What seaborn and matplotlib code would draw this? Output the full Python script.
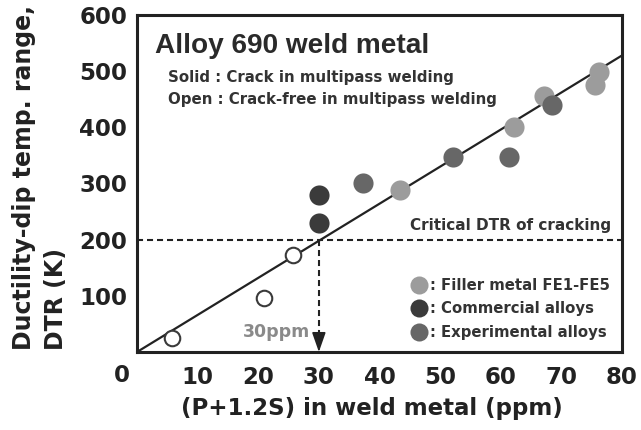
import matplotlib
matplotlib.use("Agg")
import matplotlib.pyplot as plt
from matplotlib.lines import Line2D
import seaborn as sns

sns.set_theme(style="white")
plt.rcParams['font.family'] = ['DejaVu Sans']
plt.rcParams['font.weight'] = 'bold'

# ---- data ----
open_x = [5.8, 21.0, 25.8]
open_y = [25, 96, 172]
filler_x = [43.4, 62.2, 67.2, 75.6, 76.2]
filler_y = [288, 400, 455, 475, 499]
commercial_x = [30.0, 30.0]
commercial_y = [280, 229]
experimental_x = [37.3, 52.1, 61.4, 68.5]
experimental_y = [301, 348, 348, 440]
fit_x = [0, 80]
fit_y = [0, 528]
critical_dtr = 200
critical_ppm = 30
x_ticks = [10, 20, 30, 40, 50, 60, 70, 80]
y_ticks = [100, 200, 300, 400, 500, 600]

col_filler = '#9c9c9c'
col_comm = '#3b3b3b'
col_exp = '#676767'
col_text = '#2a2a2a'

fig = plt.figure(figsize=(6.41, 4.30), dpi=100)
ax = fig.add_axes([137/641, (430-352)/430, 485/641, 337/430])

# fit line
sns.lineplot(x=fit_x, y=fit_y, ax=ax, color='#222222', lw=1.6, zorder=2)

# critical dashed lines
ax.plot([0, 80], [critical_dtr, critical_dtr], color='#222222', lw=1.5,
        dashes=(2.9, 1.9), zorder=1)
ax.plot([critical_ppm, critical_ppm], [critical_dtr, 20], color='#222222', lw=1.5,
        dashes=(2.9, 1.9), zorder=1)
ax.annotate('', xy=(critical_ppm, 0), xytext=(critical_ppm, 38),
            arrowprops=dict(arrowstyle='-|>,head_length=1.0,head_width=0.35',
                            color='#222222', lw=1.2, shrinkA=0, shrinkB=0))

# points
sns.scatterplot(x=filler_x, y=filler_y, ax=ax, s=210, color=col_filler, linewidth=0, zorder=3)
sns.scatterplot(x=experimental_x, y=experimental_y, ax=ax, s=210, color=col_exp, linewidth=0, zorder=3)
sns.scatterplot(x=commercial_x, y=commercial_y, ax=ax, s=210, color=col_comm, linewidth=0, zorder=3)
sns.scatterplot(x=open_x, y=open_y, ax=ax, s=125, facecolor='white', edgecolor='#3a3a3a',
                linewidth=1.5, zorder=4)

ax.set_xlim(0, 80)
ax.set_ylim(0, 600)
ax.set_xticks(x_ticks)
ax.set_yticks(y_ticks)
ax.tick_params(direction='in', length=5, width=1.5, color='#222222',
               labelsize=16.5, labelcolor='#222222')
ax.tick_params(axis='x', pad=10)
ax.tick_params(axis='y', pad=7)
for lab in ax.get_xticklabels() + ax.get_yticklabels():
    lab.set_fontweight('bold')
for sp in ax.spines.values():
    sp.set_linewidth(2.2)
    sp.set_color('#222222')

ax.annotate('0', xy=(0, 0), xycoords='data', xytext=(-11, -17), textcoords='offset points',
            ha='center', va='center', fontsize=16.5, fontweight='bold', color='#222222')

ax.set_xlabel('(P+1.2S) in weld metal (ppm)', fontsize=16.5, fontweight='bold',
              color='#222222', labelpad=9)
ax.xaxis.set_label_coords(0.485, -0.135)
fig.text(0.018, (430-350)/430, 'Ductility-dip temp. range,\nDTR (K)',
         rotation=90, ha='left', va='bottom', multialignment='left',
         fontsize=17, fontweight='bold', color='#222222', linespacing=1.45)

# annotations
fig.text(155/641, 1 - 53/430, 'Alloy 690 weld metal', fontsize=20.2, fontweight='bold',
         family=['Liberation Sans', 'DejaVu Sans'],
         color=col_text, ha='left', va='baseline')
fig.text(168/641, 1 - 82/430, 'Solid : Crack in multipass welding', fontsize=10.85,
         fontweight='bold', color='#333333', ha='left', va='baseline')
fig.text(168/641, 1 - 104/430, 'Open : Crack-free in multipass welding', fontsize=10.85,
         fontweight='bold', color='#333333', ha='left', va='baseline')
ax.text(78.2, critical_dtr + 12, 'Critical DTR of cracking', fontsize=11, fontweight='bold',
        color='#333333', ha='right', va='bottom')
ax.text(critical_ppm - 1.5, 36, '30ppm', fontsize=12.5, fontweight='bold',
        color='#8a8a8a', ha='right', va='center')

handles = [Line2D([], [], ls='none', marker='o', markersize=13, markeredgewidth=0,
                  color=c) for c in (col_filler, col_comm, col_exp)]
labels = [': Filler metal FE1-FE5', ': Commercial alloys', ': Experimental alloys']
leg = ax.legend(handles, labels, loc='lower right', bbox_to_anchor=(1.0, 0.0),
                frameon=False, fontsize=10.7, handlelength=1.0, handletextpad=0.25,
                labelspacing=0.58, borderaxespad=0.4)
for t in leg.get_texts():
    t.set_fontweight('bold')
    t.set_color('#333333')

fig.savefig('out.png', dpi=100)
